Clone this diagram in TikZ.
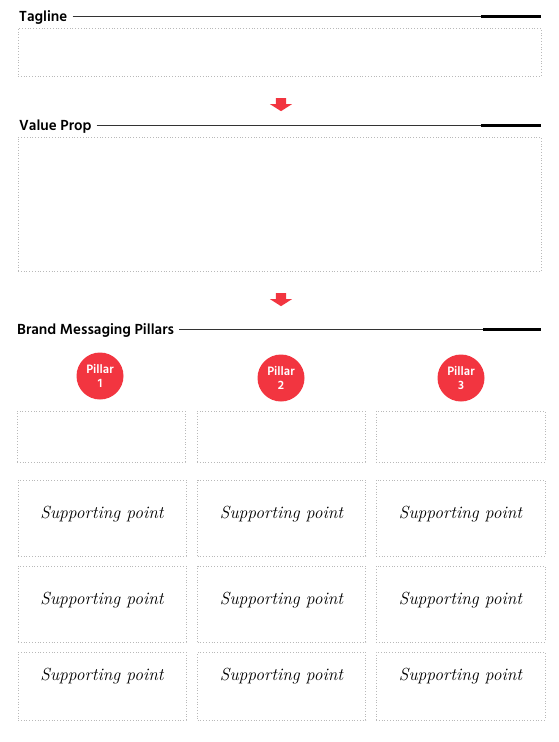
\documentclass[tikz,border=0pt]{standalone}
\usepackage{fontspec}
\usepackage{tikz}
\usetikzlibrary{
	positioning,
	shapes.arrows
}
\newfontfamily\headfont{Hind Siliguri}
\definecolor{pillred}{RGB}{242,53,64}
\definecolor{dotgray}{RGB}{185,185,185}
\tikzset{
	heading/.style={anchor=base west,inner sep=0pt,font=\headfont\bfseries\fontsize{15}{17}\selectfont},
	rule/.style={draw=black!80,line width=0.8pt,shorten <=5pt},
	rulecap/.style={draw=black,line width=3pt},
	slot/.style={draw=dotgray,dotted,line width=0.8pt,inner sep=0pt},
	point/.style={slot,font=\itshape\fontsize{17.5}{20}\selectfont,text depth=12pt},
	pillar/.style={circle,fill=pillred,text=white,minimum size=47pt,inner sep=0pt,
		align=center,font=\headfont\bfseries\fontsize{12.5}{13.5}\selectfont},
	flow/.style={single arrow,rotate=-90,fill=pillred,inner xsep=0pt,inner ysep=5pt,
		minimum width=22pt,minimum height=13pt,single arrow head extend=6pt,
		single arrow tip angle=115}
}
\begin{document}
\begin{tikzpicture}[x=1pt,y=-1pt]
	\useasboundingbox (0,0) rectangle (558,742);
	% headings
	\node [heading] (tagT)   at (19,21)  {Tagline};
	\node [heading] (valT)   at (19,130) {Value Prop};
	\node [heading] (brandT) at (17,334) {Brand Messaging Pillars};
	\coordinate (tagE)   at (541,16);
	\coordinate (tagK)   at (481,16);
	\coordinate (valE)   at (541,125);
	\coordinate (valK)   at (481,125);
	\coordinate (brandE) at (541,329);
	\coordinate (brandK) at (483,329);
	\draw [rule] (tagT.east |- tagE)     -- (tagE);
	\draw [rule] (valT.east |- valE)     -- (valE);
	\draw [rule] (brandT.east |- brandE) -- (brandE);
	\draw [rulecap] (tagK)   -- (tagE);
	\draw [rulecap] (valK)   -- (valE);
	\draw [rulecap] (brandK) -- (brandE);
	% tagline and value prop
	\node [slot,minimum width=523pt,minimum height=48pt]  (tagBox) at (279.5,52)  {};
	\node [flow]                                          (arr1)   at (281,103)   {};
	\node [slot,minimum width=523pt,minimum height=134pt] (valBox) at (279.5,204) {};
	\node [flow]                                          (arr2)   at (281,298)   {};
	% pillars
	\node [pillar] (p1) at (100,376) {Pillar\\1};
	\node [pillar] (p2) at (281,378) {Pillar\\2};
	\node [pillar] (p3) at (461,378) {Pillar\\3};
	\node [slot,minimum width=168pt,minimum height=51pt] (h1) at (101,436.5)   {};
	\node [slot,minimum width=168pt,minimum height=51pt] (h2) at (281,436.5)   {};
	\node [slot,minimum width=169pt,minimum height=51pt] (h3) at (460.5,436.5) {};
	% supporting points
	\node [point,minimum width=168pt,minimum height=76pt] (s11) at (102,518)   {Supporting point};
	\node [point,minimum width=168pt,minimum height=76pt] (s12) at (281.5,518) {Supporting point};
	\node [point,minimum width=169pt,minimum height=76pt] (s13) at (460.5,518) {Supporting point};
	\node [point,minimum width=168pt,minimum height=76pt] (s21) at (102,604)   {Supporting point};
	\node [point,minimum width=168pt,minimum height=76pt] (s22) at (281.5,604) {Supporting point};
	\node [point,minimum width=169pt,minimum height=76pt] (s23) at (460.5,604) {Supporting point};
	\node [point,minimum width=168pt,minimum height=68pt,text depth=24pt] (s31) at (102,686)   {Supporting point};
	\node [point,minimum width=168pt,minimum height=68pt,text depth=24pt] (s32) at (281.5,686) {Supporting point};
	\node [point,minimum width=169pt,minimum height=68pt,text depth=24pt] (s33) at (460.5,686) {Supporting point};
\end{tikzpicture}
\end{document}
